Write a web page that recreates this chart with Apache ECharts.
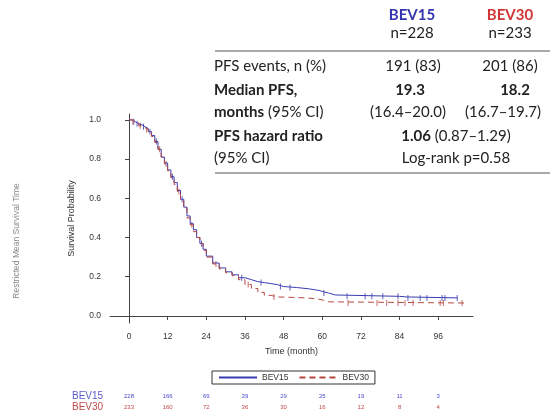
<!DOCTYPE html>
<html>
<head>
<meta charset="utf-8">
<script src="https://cdn.jsdelivr.net/npm/echarts@6/dist/echarts.min.js"></script>
<style>
  html, body { margin: 0; padding: 0; background: #fff; }
  #chart { width: 550px; height: 418px; }
</style>
</head>
<body>
<div id="chart"></div>
<script>
// KM curve steps (time in months, survival)
var bev15Time = [0, 1, 2, 3, 4, 5, 6, 7, 8, 9, 10, 11, 12, 13, 14, 15, 16, 17, 18, 19, 20, 21, 22, 23, 24, 26, 28, 30, 32, 34, 36, 38, 40, 42, 44, 46, 48, 52, 56, 59, 60, 62, 64, 84, 86, 102]
var bev15Surv = [1.0, 0.99, 0.98, 0.975, 0.965, 0.955, 0.94, 0.92, 0.89, 0.85, 0.81, 0.78, 0.745, 0.71, 0.68, 0.64, 0.595, 0.555, 0.51, 0.47, 0.44, 0.40, 0.37, 0.34, 0.305, 0.27, 0.245, 0.225, 0.21, 0.195, 0.185, 0.175, 0.17, 0.165, 0.16, 0.15, 0.145, 0.138, 0.13, 0.125, 0.117, 0.107, 0.10, 0.097, 0.092, 0.092]
var bev30Time = [0, 1, 2, 3, 4, 5, 6, 7, 8, 9, 10, 11, 12, 13, 14, 15, 16, 17, 18, 19, 20, 21, 22, 23, 24, 26, 28, 30, 32, 34, 36, 38, 40, 42, 44, 46, 50, 55, 58, 60, 62, 104]
var bev30Surv = [1.0, 0.99, 0.985, 0.97, 0.96, 0.95, 0.935, 0.915, 0.885, 0.85, 0.81, 0.775, 0.74, 0.705, 0.67, 0.635, 0.59, 0.55, 0.50, 0.465, 0.43, 0.40, 0.37, 0.335, 0.30, 0.265, 0.24, 0.22, 0.205, 0.185, 0.16, 0.14, 0.12, 0.105, 0.097, 0.095, 0.092, 0.088, 0.082, 0.072, 0.066, 0.066]
// censoring times
var bev15Censor = [1.5, 2.5, 4.5, 6.5, 8.5, 13.5, 16.5, 22.5, 35, 41, 47, 50, 60.5, 67.7, 73.3, 75.4, 78.8, 83.5, 86.6, 90.4, 92.5, 97.2, 98.1, 101.9]
var bev30Censor = [1.2, 3.5, 5.5, 9.5, 11.5, 15.5, 19.5, 27, 37, 45, 68, 77, 80, 83.5, 85.7, 88.2, 96.6, 97.6, 103.4]

var months = [0, 12, 24, 36, 48, 60, 72, 84, 96]
var yTicks = [0, 0.2, 0.4, 0.6, 0.8, 1.0]
var atRiskBev15 = [228, 166, 69, 39, 29, 25, 19, 11, 3]
var atRiskBev30 = [233, 160, 72, 36, 30, 16, 12, 8, 4]

var blue = '#3b3bb3'
var red = '#b5473f'
var sans = 'Liberation Sans, Arial, sans-serif'

function pairs(ts, ss) {
  return ts.map(function (t, i) { return [t, ss[i]] })
}
// survival value of the step curve at time t
function survAt(ts, ss, t) {
  var s = ss[0]
  for (var i = 0; i < ts.length; i++) {
    if (ts[i] <= t) s = ss[i]
  }
  return s
}
function censorPts(c, ts, ss) {
  return c.map(function (t) { return [t, survAt(ts, ss, t)] })
}

var myChart = echarts.init(document.getElementById('chart'))

var option = {
  animation: false,
  textStyle: { fontFamily: sans },
  grid: { left: 110, top: 114, width: 363, height: 209 },
  xAxis: {
    type: 'value', min: -5.9, max: 106.8,
    name: 'Time (month)', nameLocation: 'middle', nameGap: 24,
    nameTextStyle: { fontSize: 9, color: '#333' },
    axisLine: { show: true, lineStyle: { color: '#444', width: 1 } },
    axisTick: { show: true, length: 4, customValues: months, lineStyle: { color: '#444' } },
    axisLabel: { customValues: months, fontSize: 8.5, color: '#333', margin: 9 },
    splitLine: { show: false }
  },
  yAxis: {
    type: 'value', min: -0.036, max: 1.03,
    name: 'Survival Probability', nameLocation: 'middle', nameGap: 34,
    nameTextStyle: { fontSize: 9, color: '#333' },
    axisLine: { show: true, lineStyle: { color: '#444', width: 1 } },
    axisTick: { show: true, length: 4, customValues: yTicks, lineStyle: { color: '#444' } },
    axisLabel: {
      customValues: yTicks, fontSize: 8.5, color: '#333', margin: 9,
      formatter: function (v) { return v.toFixed(1) }
    },
    splitLine: { show: false }
  },
  legend: {
    left: 212, top: 371,
    padding: [2, 6], itemGap: 10, itemWidth: 38, itemHeight: 8,
    borderColor: '#333', borderWidth: 1,
    itemStyle: { opacity: 0 },
    textStyle: { fontSize: 8.5, color: '#333' },
    data: ['BEV15', 'BEV30']
  },
  series: [
    {
      name: 'BEV15', type: 'line', step: 'end', symbol: 'none',
      data: pairs(bev15Time, bev15Surv),
      lineStyle: { color: blue, width: 1 }, itemStyle: { color: blue }
    },
    {
      name: 'BEV30', type: 'line', step: 'end', symbol: 'none',
      data: pairs(bev30Time, bev30Surv),
      lineStyle: { color: red, width: 1, type: [6, 4] }, itemStyle: { color: red }
    },
    {
      name: 'c15', type: 'scatter', symbol: 'rect', symbolSize: [1, 6],
      data: censorPts(bev15Censor, bev15Time, bev15Surv),
      itemStyle: { color: blue }
    },
    {
      name: 'c30', type: 'scatter', symbol: 'rect', symbolSize: [1, 6],
      data: censorPts(bev30Censor, bev30Time, bev30Surv),
      itemStyle: { color: red }
    }
  ]
}
myChart.setOption(option)

// text blocks: summary table, side label, number at risk
var tf = 'Lato, "Open Sans", sans-serif'
var fs = 15
var ink = '#222'
function txt(x, y, s, opt) {
  opt = opt || {}
  return {
    type: 'text', silent: true,
    style: {
      x: x, y: y, text: s,
      fontFamily: opt.font || tf, fontSize: opt.size || fs,
      fontWeight: opt.bold ? 'bold' : 'normal',
      fill: opt.color || ink,
      textAlign: opt.align || 'left', textVerticalAlign: 'middle',
      rich: opt.rich
    }
  }
}
var rich = {
  b: { fontFamily: tf, fontSize: fs, fontWeight: 'bold', fill: ink },
  n: { fontFamily: tf, fontSize: fs, fill: ink }
}

var g = [
  { type: 'rect', shape: { x: 212, y: 0, width: 338, height: 174 }, style: { fill: '#fff' }, silent: true },
  txt(412, 15, 'BEV15', { bold: true, color: '#3434b0', align: 'center' }),
  txt(510, 15, 'BEV30', { bold: true, color: '#d03535', align: 'center' }),
  txt(412, 33, 'n=228', { align: 'center' }),
  txt(510, 33, 'n=233', { align: 'center' }),
  { type: 'line', shape: { x1: 215, y1: 51, x2: 550, y2: 51 }, style: { stroke: '#555', lineWidth: 1 }, silent: true },
  txt(214, 66, 'PFS events, n (%)'),
  txt(413, 66, '191 (83)', { align: 'center' }),
  txt(510, 66, '201 (86)', { align: 'center' }),
  txt(214, 90, 'Median PFS,', { bold: true }),
  txt(410, 90, '19.3', { bold: true, align: 'center' }),
  txt(515, 90, '18.2', { bold: true, align: 'center' }),
  txt(214, 112, '{b|months} {n|(95% CI)}', { rich: rich }),
  txt(408, 112, '(16.4\u201320.0)', { align: 'center' }),
  txt(503, 112, '(16.7\u201319.7)', { align: 'center' }),
  txt(214, 136, 'PFS hazard ratio', { bold: true }),
  txt(456, 136, '{b|1.06} {n|(0.87\u20131.29)}', { align: 'center', rich: rich }),
  txt(214, 158, '(95% CI)'),
  txt(456, 158, 'Log-rank p=0.58', { align: 'center' }),
  { type: 'line', shape: { x1: 215, y1: 173, x2: 550, y2: 173 }, style: { stroke: '#555', lineWidth: 1 }, silent: true },
  {
    type: 'text', silent: true, x: 17, y: 241, rotation: Math.PI / 2,
    style: {
      text: 'Restricted Mean Survival Time', fontFamily: sans,
      fontSize: 8.5, fill: '#8a8a8a', textAlign: 'center', textVerticalAlign: 'middle'
    }
  },
  txt(72, 396, 'BEV15', { font: sans, size: 10, color: '#5a5acc' }),
  txt(72, 407, 'BEV30', { font: sans, size: 10, color: '#c04a4a' })
]
months.forEach(function (m, i) {
  var px = myChart.convertToPixel({ xAxisIndex: 0 }, m)
  g.push(txt(px, 396, String(atRiskBev15[i]), { font: sans, size: 6, color: '#4a4acc', align: 'center' }))
  g.push(txt(px, 407, String(atRiskBev30[i]), { font: sans, size: 6, color: '#c04a4a', align: 'center' }))
})
myChart.setOption({ graphic: g })
</script>
</body>
</html>
